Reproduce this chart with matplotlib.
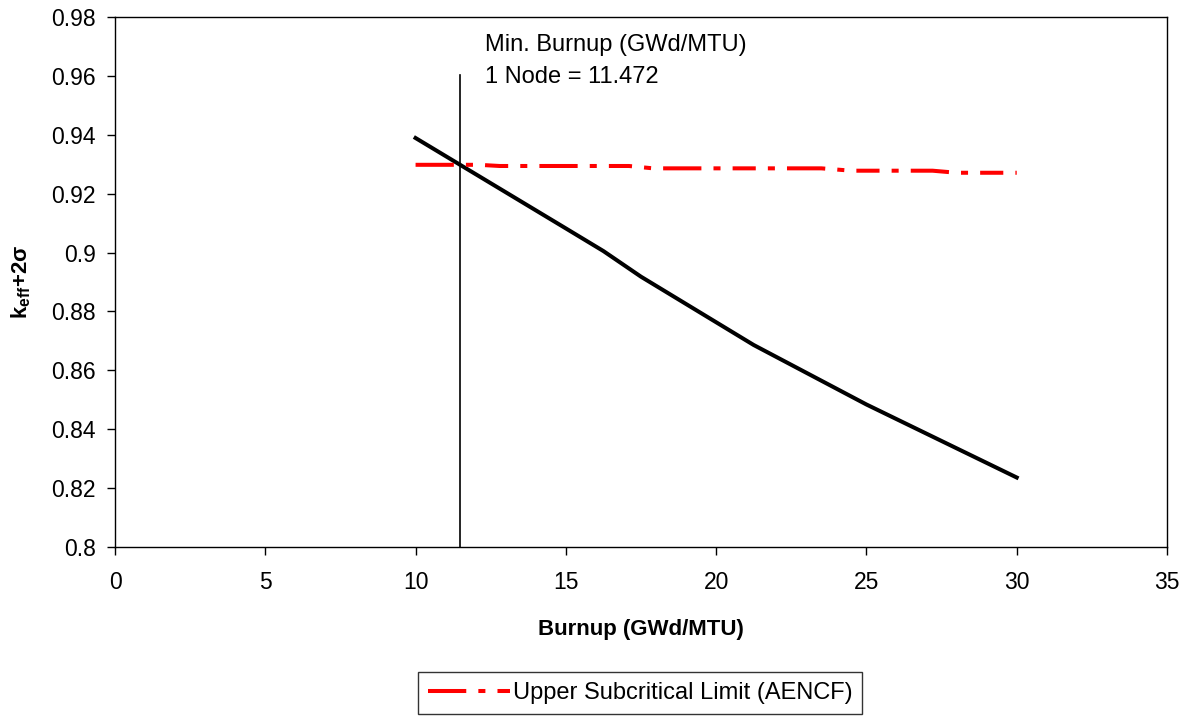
import matplotlib
matplotlib.use("Agg")
import matplotlib.pyplot as plt
from matplotlib.ticker import FuncFormatter, MultipleLocator

plt.rcParams['font.family'] = ['Liberation Sans', 'DejaVu Sans']
plt.rcParams['mathtext.fontset'] = 'custom'
plt.rcParams['mathtext.rm'] = 'Liberation Sans'
plt.rcParams['mathtext.bf'] = 'Liberation Sans:bold'

# Data
keff_burnup = [10, 15, 16.25, 17.5, 21.25, 25, 30]
keff_values = [0.9389, 0.9082, 0.9005, 0.8918, 0.8686, 0.8484, 0.8236]

usl_burnup = [10, 12.1, 12.8, 17.1, 17.9, 23.5, 24.5, 27.2, 28.0, 30]
usl_values = [0.9298, 0.9298, 0.9294, 0.9294, 0.9286, 0.9286, 0.9278, 0.9278, 0.9271, 0.9271]

min_burnup = 11.472
min_line_top = 0.9603
annot_lines = ["Min. Burnup (GWd/MTU)", "1 Node = 11.472"]
legend_label = "Upper Subcritical Limit (AENCF)"

fig = plt.figure(figsize=(11.89, 7.17), dpi=100)
ax = fig.add_axes([115/1189, 1-547/717, (1167-115)/1189, (547-17)/717])

ax.plot(keff_burnup, keff_values, color='black', lw=2.9, solid_joinstyle='miter')
red, = ax.plot(usl_burnup, usl_values, color='#ff0000', lw=2.9,
               dashes=(9.5, 3, 1.75, 3, 5.75, 3, 1.75, 3), dash_capstyle='butt',
               label=legend_label)
ax.plot([min_burnup, min_burnup], [0.8, min_line_top], color='black', lw=1.2)

ax.text(12.3, 0.9705, annot_lines[0], fontsize=17, va='center', ha='left')
ax.text(12.3, 0.9597, annot_lines[1], fontsize=17, va='center', ha='left')

ax.set_xlim(0, 35)
ax.set_ylim(0.8, 0.98)
ax.xaxis.set_major_locator(MultipleLocator(5))
ax.yaxis.set_major_locator(MultipleLocator(0.02))
ax.yaxis.set_major_formatter(FuncFormatter(lambda v, p: f"{v:.2f}".rstrip('0').rstrip('.')))
ax.tick_params(direction='out', length=6, width=1, labelsize=16.5)
ax.tick_params(axis='x', pad=11)
ax.tick_params(axis='y', pad=8)
for s in ax.spines.values():
    s.set_color('black')
    s.set_linewidth(1)

ax.set_xlabel("Burnup (GWd/MTU)", fontsize=16, fontweight='bold', labelpad=18)
ax.set_ylabel(r"k$_{\mathbf{eff}}$+2$\mathbf{\sigma}$", fontsize=16, fontweight='bold', labelpad=13)

leg = fig.legend(handles=[red], loc='center', bbox_to_anchor=(640/1189, 1-693/717),
                 fontsize=17, frameon=True, fancybox=False, handlelength=3.5,
                 handletextpad=0.1, borderpad=0.42, borderaxespad=0)
leg.get_frame().set_edgecolor('black')
leg.get_frame().set_linewidth(1)

fig.savefig("out.png", dpi=100)
